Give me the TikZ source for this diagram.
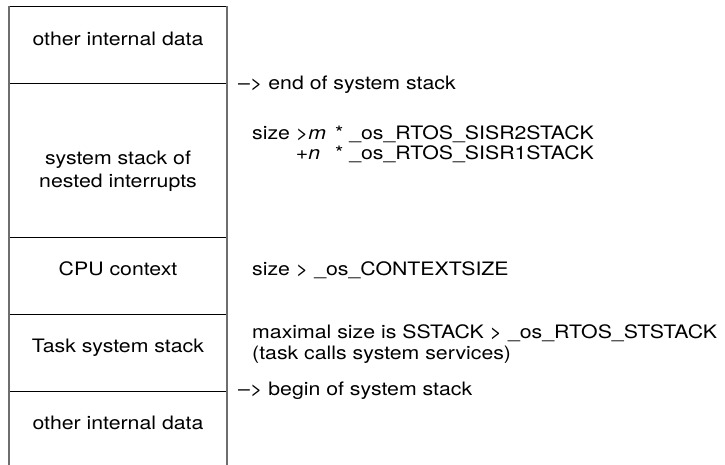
\documentclass[tikz,border=0pt]{standalone}
\usepackage{fontspec}
\usepackage{calc}
\setmainfont[FakeStretch=1.15]{TeX Gyre Heros}
\definecolor{edgegray}{HTML}{6E6E6E}
\newlength{\mwd}
\newcommand{\setmwd}{\settowidth{\mwd}{\textit{m}}\addtolength{\mwd}{9pt}}
\begin{document}
\begin{tikzpicture}[x=1pt,y=1pt,
  vline/.style={draw=edgegray,line width=1.4pt},
  hline/.style={draw=black,line width=0.8pt},
  lbl/.style={anchor=base,inner sep=0pt,font=\fontsize{18.5}{22}\selectfont},
  note/.style={anchor=base west,inner sep=0pt,font=\fontsize{18.5}{22}\selectfont}]
\useasboundingbox (0,0) rectangle (725,465);
% frame coordinates
\coordinate (tl) at (9,459);
\coordinate (tr) at (227,459);
\coordinate (bl) at (9,0);
\coordinate (br) at (227,0);
\coordinate (l1) at (9,382);   \coordinate (r1) at (227,382);
\coordinate (l2) at (9,228);   \coordinate (r2) at (227,228);
\coordinate (l3) at (9,151);   \coordinate (r3) at (227,151);
\coordinate (l4) at (9,74);    \coordinate (r4) at (227,74);
% lines
\draw[hline] (tl) -- (tr);
\draw[hline] (l1) -- (r1);
\draw[hline] (l2) -- (r2);
\draw[hline] (l3) -- (r3);
\draw[hline] (l4) -- (r4);
\draw[vline] (tl) -- (bl);
\draw[vline] (tr) -- (br);
% box labels
\node[lbl] (oid1) at (118,419) {other internal data};
\node[lbl] (sst1) at (118,300) {system stack of};
\node[lbl] (sst2) at (118,277) {nested interrupts};
\node[lbl] (cpu)  at (118,189) {CPU context};
\node[lbl] (tss)  at (118,112) {Task system stack};
\node[lbl] (oid2) at (118,35)  {other internal data};
% notes
\node[note] (eos) at (238,375) {\textendash> end of system stack};
\node[note] (sz1) at (252,325) {\setmwd size >\makebox[\mwd][l]{\textit{m}}* \_os\_RTOS\_SISR2STACK};
\node[note] (sz2) at (252,305) {\setmwd\makebox[\widthof{size >}][r]{+}\makebox[\mwd][l]{\textit{n}}* \_os\_RTOS\_SISR1STACK};
\node[note] (csz) at (252,189) {size > \_os\_CONTEXTSIZE};
\node[note] (mx1) at (252,126) {maximal size is SSTACK > \_os\_RTOS\_STSTACK};
\node[note] (mx2) at (252,105) {(task calls system services)};
\node[note] (bos) at (238,69) {\textendash> begin of system stack};
\end{tikzpicture}
\end{document}
